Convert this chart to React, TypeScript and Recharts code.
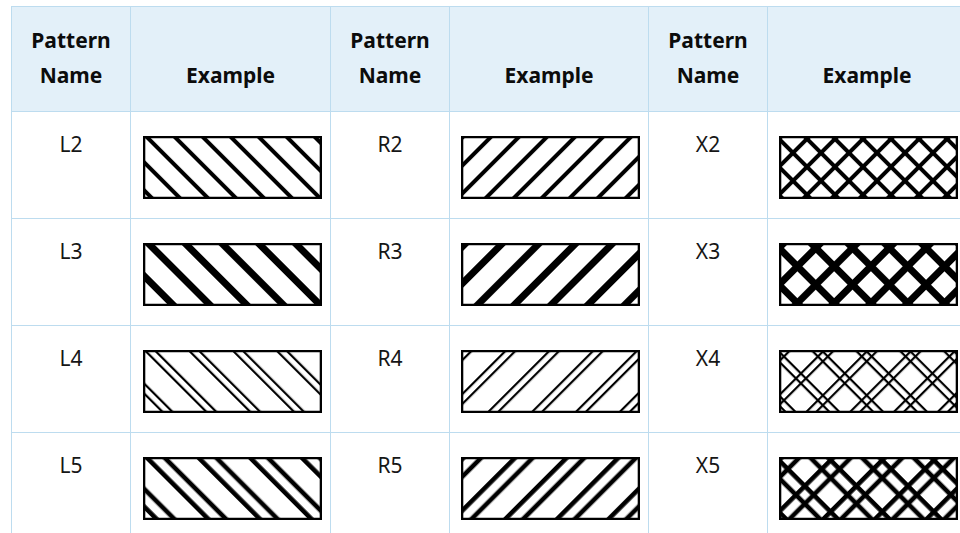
import React from 'react';
import { BarChart, Bar, XAxis, YAxis } from 'recharts';

// pattern names, one list per table column pair
const leftNames = ['L2', 'L3', 'L4', 'L5'];
const middleNames = ['R2', 'R3', 'R4', 'R5'];
const rightNames = ['X2', 'X3', 'X4', 'X5'];
const headerLabels = ['Pattern Name', 'Example', 'Pattern Name', 'Example', 'Pattern Name', 'Example'];
// each example is one full bar
const exampleData = [{ name: 'example', value: 1 }];

// pattern density by number (spacing, line width, gap between paired lines)
const density: Record<string, { period: number; w: number; gap: number }> = {
  '2': { period: 19.8, w: 4, gap: 0 },
  '3': { period: 26, w: 7, gap: 0 },
  '4': { period: 31, w: 2.2, gap: 7 },
  '5': { period: 36.5, w: 4.6, gap: 12.5 },
};

const BORDER = '1px solid #bddcef';
const FONT = '"Noto Sans", sans-serif';
const colWidths = [119, 200, 119, 199, 119, 199];

function PatternDef({ id, name }: { id: string; name: string }) {
  const fam = name[0];
  const s = density[name[1]];
  const offsets = s.gap ? [0, s.gap] : [0];
  const rot = fam === 'L' ? -45 : 45;
  return (
    <pattern id={id} patternUnits="userSpaceOnUse" width={s.period} height={s.period} patternTransform={`rotate(${rot})`}>
      <rect width={s.period} height={s.period} fill="#fff" />
      {offsets.map((o) => (
        <rect key={'v' + o} x={o} y={0} width={s.w} height={s.period} fill="#000" />
      ))}
      {fam === 'X' &&
        offsets.map((o) => <rect key={'h' + o} x={0} y={o} width={s.period} height={s.w} fill="#000" />)}
    </pattern>
  );
}

function Example({ name }: { name: string }) {
  const id = 'pat-' + name;
  return (
    <BarChart width={179} height={63} data={exampleData} margin={{ top: 1, right: 1, bottom: 1, left: 1 }} barCategoryGap={0}>
      <defs>
        <PatternDef id={id} name={name} />
      </defs>
      <XAxis dataKey="name" hide />
      <YAxis hide domain={[0, 1]} />
      <Bar dataKey="value" fill={`url(#${id})`} stroke="#000" strokeWidth={2.6} isAnimationActive={false} />
    </BarChart>
  );
}

const nameCell: React.CSSProperties = {
  border: BORDER,
  textAlign: 'center',
  verticalAlign: 'top',
  paddingTop: 18,
  fontSize: 21,
  color: '#161616',
  height: 106,
  boxSizing: 'border-box',
};
const exampleCell: React.CSSProperties = {
  border: BORDER,
  verticalAlign: 'top',
  paddingTop: 24,
};

export default function App() {
  return (
    <div style={{ position: 'absolute', left: 11, top: 6, width: 949, height: 527, overflow: 'hidden' }}>
      <table style={{ borderCollapse: 'collapse', tableLayout: 'fixed', width: 955, fontFamily: FONT }}>
        <colgroup>
          {colWidths.map((w, i) => (
            <col key={i} style={{ width: w }} />
          ))}
        </colgroup>
        <thead>
          <tr style={{ background: '#e3f0f9', height: 105 }}>
            {headerLabels.map((h, i) => (
              <th
                key={i}
                style={{
                  border: BORDER,
                  fontSize: 21,
                  lineHeight: '35px',
                  fontWeight: 700,
                  verticalAlign: 'bottom',
                  paddingBottom: 18,
                  color: '#0c0c0c',
                }}
              >
                {h === 'Pattern Name' ? (
                  <>
                    Pattern
                    <br />
                    Name
                  </>
                ) : (
                  h
                )}
              </th>
            ))}
          </tr>
        </thead>
        <tbody>
          {leftNames.map((l, i) => (
            <tr key={l} style={{ height: 107 }}>
              <td style={nameCell}>{l}</td>
              <td style={exampleCell}>
                <div style={{ marginLeft: 11 }}>
                  <Example name={l} />
                </div>
              </td>
              <td style={nameCell}>{middleNames[i]}</td>
              <td style={exampleCell}>
                <div style={{ marginLeft: 10 }}>
                  <Example name={middleNames[i]} />
                </div>
              </td>
              <td style={nameCell}>{rightNames[i]}</td>
              <td style={exampleCell}>
                <div style={{ marginLeft: 10 }}>
                  <Example name={rightNames[i]} />
                </div>
              </td>
            </tr>
          ))}
        </tbody>
      </table>
    </div>
  );
}
